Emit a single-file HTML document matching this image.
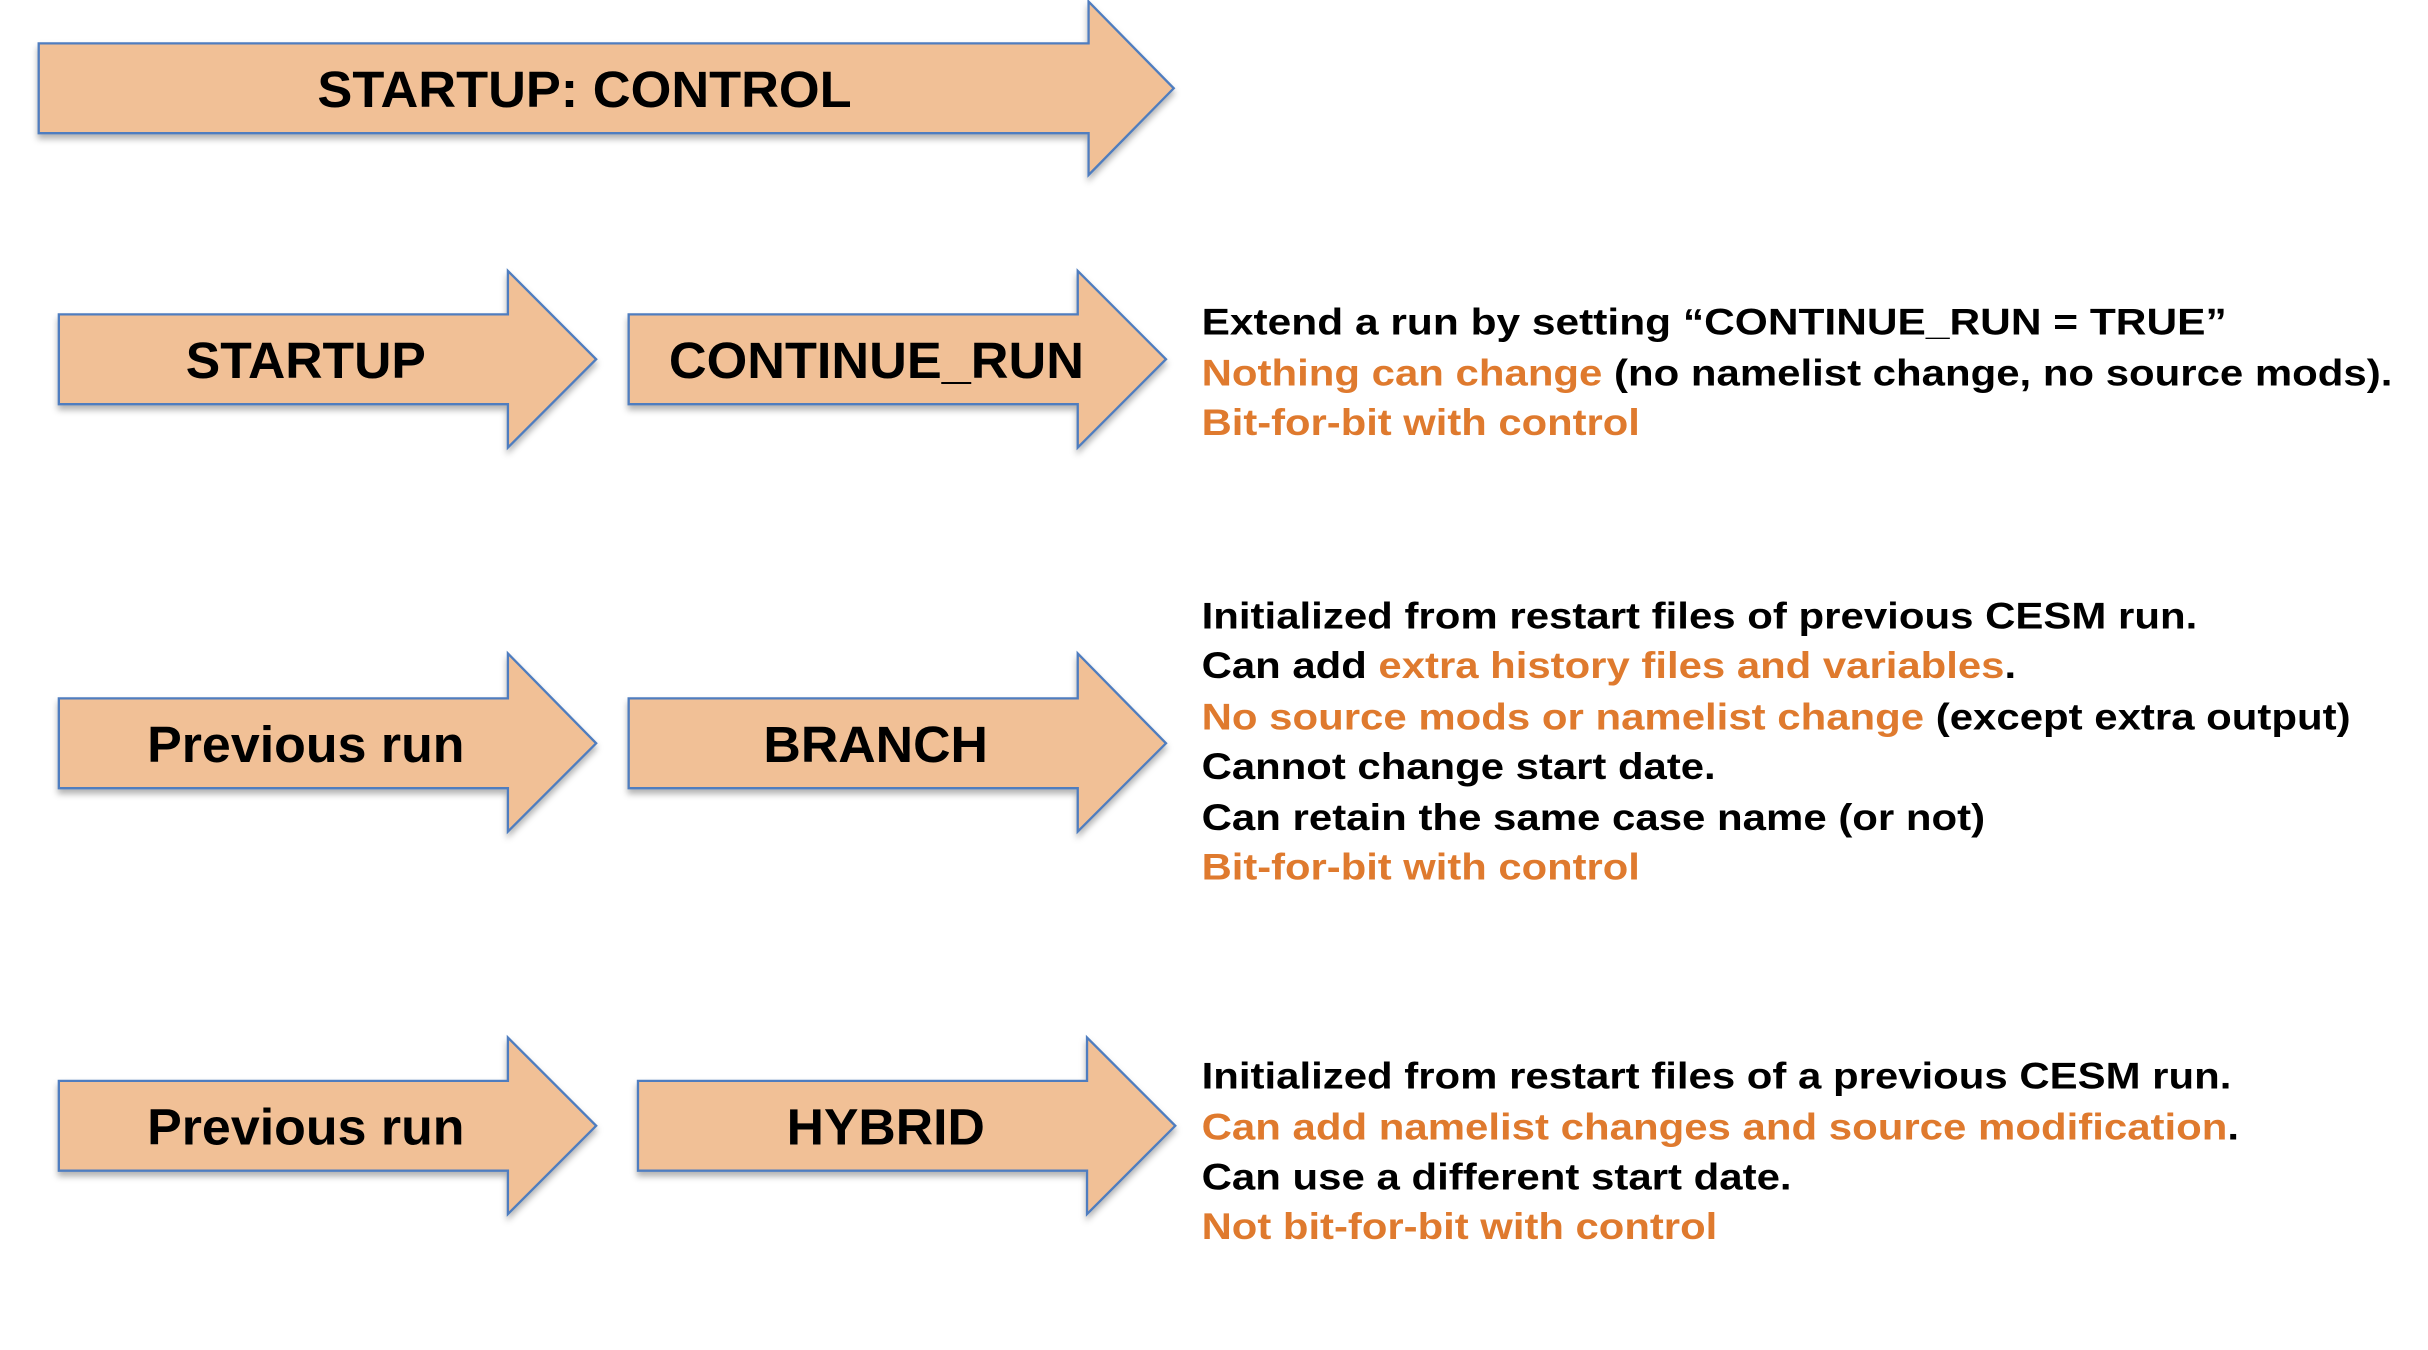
<!DOCTYPE html>
<html><head><meta charset="utf-8"><style>
html,body{margin:0;padding:0;background:#fff;}
svg{display:block;}
.a{fill:#F1C096;stroke:#4F7DBF;stroke-width:1.5;filter:url(#sh);}
.l{font-family:"Liberation Sans",sans-serif;font-weight:bold;font-size:33px;fill:#000;}
.t{font-family:"Liberation Sans",sans-serif;font-weight:bold;font-size:24px;fill:#000;}
.o{fill:#DF7A2E;}
</style></head><body>
<svg width="2428" height="1350" viewBox="0 0 1568 871.8" preserveAspectRatio="none" xmlns="http://www.w3.org/2000/svg">
<defs><filter id="sh" x="-5%" y="-10%" width="110%" height="130%"><feDropShadow dx="0" dy="3" stdDeviation="2" flood-color="#000" flood-opacity="0.3"/></filter></defs>
<polygon class="a" points="25,28 703,28 703,1 758,57 703,113 703,86 25,86"/>
<text class="l" x="205" y="69" textLength="345" lengthAdjust="spacingAndGlyphs">STARTUP: CONTROL</text>
<polygon class="a" points="38,203 328,203 328,175 385,232 328,289 328,261 38,261"/>
<text class="l" x="120" y="244" textLength="155" lengthAdjust="spacingAndGlyphs">STARTUP</text>
<polygon class="a" points="406,203 696,203 696,175 753,232 696,289 696,261 406,261"/>
<text class="l" x="432" y="244" textLength="268" lengthAdjust="spacingAndGlyphs">CONTINUE_RUN</text>
<polygon class="a" points="38,451 328,451 328,422 385,480 328,537 328,509 38,509"/>
<text class="l" x="95" y="492" textLength="205" lengthAdjust="spacingAndGlyphs">Previous run</text>
<polygon class="a" points="406,451 696,451 696,422 753,480 696,537 696,509 406,509"/>
<text class="l" x="493" y="492" textLength="145" lengthAdjust="spacingAndGlyphs">BRANCH</text>
<polygon class="a" points="38,698 328,698 328,670 385,727 328,784 328,756 38,756"/>
<text class="l" x="95" y="739" textLength="205" lengthAdjust="spacingAndGlyphs">Previous run</text>
<polygon class="a" points="412,698 702,698 702,670 759,727 702,784 702,756 412,756"/>
<text class="l" x="508" y="739" textLength="128" lengthAdjust="spacingAndGlyphs">HYBRID</text>
<text class="t" x="776" y="216" textLength="662" lengthAdjust="spacingAndGlyphs">Extend a run by setting  “CONTINUE_RUN = TRUE”</text>
<text class="t" x="776" y="249" textLength="769" lengthAdjust="spacingAndGlyphs"><tspan class="o">Nothing can change</tspan> (no namelist change, no source mods).</text>
<text class="t o" x="776" y="281" textLength="283" lengthAdjust="spacingAndGlyphs">Bit-for-bit with control</text>
<text class="t" x="776" y="406" textLength="643" lengthAdjust="spacingAndGlyphs">Initialized from restart files of previous CESM run.</text>
<text class="t" x="776" y="438" textLength="526" lengthAdjust="spacingAndGlyphs">Can add <tspan class="o">extra history files and variables</tspan>.</text>
<text class="t" x="776" y="471" textLength="742" lengthAdjust="spacingAndGlyphs"><tspan class="o">No source mods or namelist change</tspan> (except extra output)</text>
<text class="t" x="776" y="503" textLength="332" lengthAdjust="spacingAndGlyphs">Cannot change start date.</text>
<text class="t" x="776" y="536" textLength="506" lengthAdjust="spacingAndGlyphs">Can retain the same case name (or not)</text>
<text class="t o" x="776" y="568" textLength="283" lengthAdjust="spacingAndGlyphs">Bit-for-bit with control</text>
<text class="t" x="776" y="703" textLength="665" lengthAdjust="spacingAndGlyphs">Initialized from restart files of a previous CESM run.</text>
<text class="t" x="776" y="736" textLength="670" lengthAdjust="spacingAndGlyphs"><tspan class="o">Can add namelist changes and source modification</tspan>.</text>
<text class="t" x="776" y="768" textLength="381" lengthAdjust="spacingAndGlyphs">Can use a different start date.</text>
<text class="t o" x="776" y="800" textLength="333" lengthAdjust="spacingAndGlyphs">Not bit-for-bit with control</text>
</svg>
</body></html>
